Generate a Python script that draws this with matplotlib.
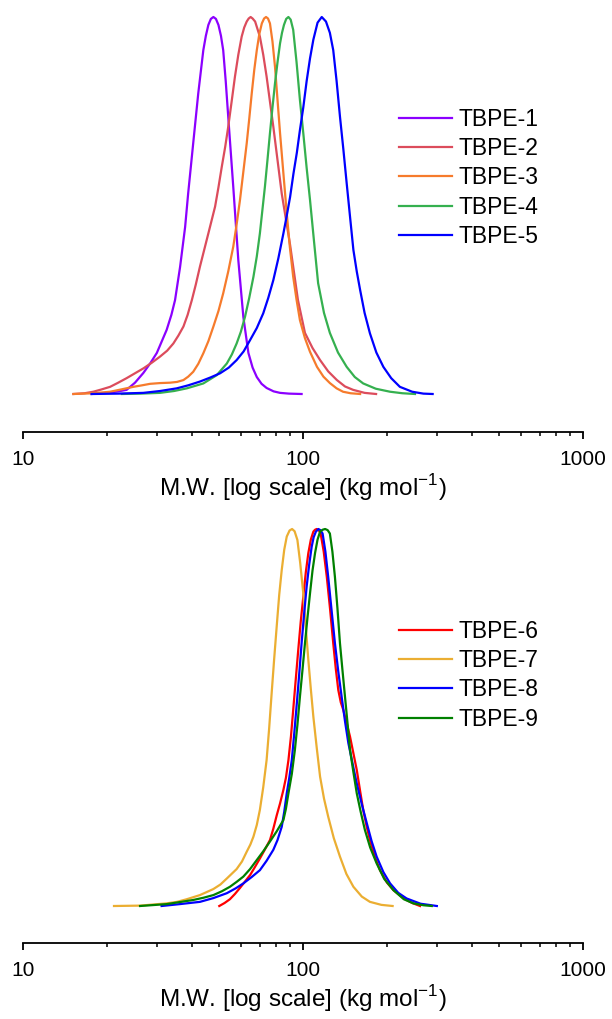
import matplotlib
matplotlib.use("Agg")
import matplotlib.pyplot as plt
import numpy as np

plt.rcParams['font.family'] = ['Liberation Sans', 'DejaVu Sans']
plt.rcParams['mathtext.fontset'] = 'custom'
plt.rcParams['mathtext.rm'] = 'Liberation Sans'

# GPC traces: log10(M.W. / kg mol-1) and normalised height
labels_top = ['TBPE-1', 'TBPE-2', 'TBPE-3', 'TBPE-4', 'TBPE-5']
colors_top = ['#8b00ff', '#dc4c5c', '#f67b2c', '#35b04f', '#0000ff']

logm_1 = [1.245, 1.300, 1.340, 1.370, 1.400, 1.430, 1.455, 1.478, 1.513, 1.530, 1.543, 1.561, 1.579,
          1.590, 1.608, 1.626, 1.644, 1.653, 1.662, 1.671, 1.680, 1.689, 1.698, 1.707, 1.715, 1.724,
          1.733, 1.751, 1.769, 1.787, 1.805, 1.820, 1.835, 1.852, 1.870, 1.895, 1.918, 1.950, 1.995]
h_1 = [0, 0.003, 0.007, 0.011, 0.030, 0.056, 0.082, 0.109, 0.170, 0.210, 0.249, 0.337, 0.443,
       0.533, 0.666, 0.798, 0.912, 0.950, 0.979, 0.995, 1.0, 0.995, 0.979, 0.950, 0.912, 0.830,
       0.735, 0.549, 0.355, 0.204, 0.109, 0.070, 0.045, 0.027, 0.016, 0.007, 0.003, 0.001, 0]

logm_2 = [1.180, 1.220, 1.251, 1.280, 1.311, 1.340, 1.370, 1.400, 1.430, 1.460, 1.489, 1.515, 1.537,
          1.555, 1.573, 1.588, 1.603, 1.617, 1.632, 1.647, 1.662, 1.686, 1.698, 1.710, 1.722, 1.733,
          1.745, 1.757, 1.769, 1.781, 1.790, 1.799, 1.806, 1.813, 1.820, 1.829, 1.846, 1.858, 1.870,
          1.894, 1.924, 1.954, 1.982, 2.007, 2.034, 2.061, 2.090, 2.121, 2.150, 2.179, 2.220, 2.261]
h_2 = [0, 0.002, 0.006, 0.012, 0.019, 0.030, 0.042, 0.055, 0.068, 0.083, 0.099, 0.115, 0.134,
       0.155, 0.179, 0.210, 0.249, 0.290, 0.338, 0.382, 0.426, 0.497, 0.548, 0.603, 0.655, 0.709,
       0.775, 0.842, 0.900, 0.948, 0.972, 0.988, 0.996, 1.0, 0.996, 0.988, 0.948, 0.900, 0.842,
       0.709, 0.532, 0.395, 0.249, 0.162, 0.122, 0.090, 0.060, 0.037, 0.020, 0.011, 0.003, 0]

logm_3 = [1.180, 1.250, 1.311, 1.350, 1.394, 1.425, 1.454, 1.490, 1.525, 1.550, 1.573, 1.590, 1.608,
          1.626, 1.644, 1.662, 1.680, 1.698, 1.715, 1.733, 1.751, 1.763, 1.775, 1.787, 1.799, 1.808,
          1.817, 1.826, 1.835, 1.844, 1.853, 1.861, 1.868, 1.875, 1.882, 1.891, 1.900, 1.909, 1.918,
          1.930, 1.942, 1.953, 1.965, 1.977, 1.989, 2.007, 2.025, 2.050, 2.073, 2.096, 2.120, 2.143,
          2.170, 2.204]
h_3 = [0, 0.002, 0.006, 0.012, 0.019, 0.023, 0.027, 0.029, 0.030, 0.032, 0.037, 0.046, 0.059,
       0.080, 0.108, 0.140, 0.179, 0.220, 0.267, 0.325, 0.391, 0.450, 0.515, 0.590, 0.665, 0.730,
       0.798, 0.860, 0.912, 0.955, 0.983, 0.996, 1.0, 0.996, 0.983, 0.935, 0.868, 0.780, 0.692,
       0.585, 0.479, 0.390, 0.311, 0.250, 0.196, 0.148, 0.112, 0.072, 0.046, 0.029, 0.015, 0.006,
       0.002, 0]

logm_4 = [1.353, 1.420, 1.489, 1.540, 1.585, 1.644, 1.692, 1.728, 1.746, 1.763, 1.778, 1.793, 1.808,
          1.823, 1.835, 1.846, 1.855, 1.864, 1.873, 1.882, 1.891, 1.900, 1.909, 1.918, 1.925, 1.932,
          1.940, 1.948, 1.956, 1.965, 1.977, 1.989, 2.001, 2.013, 2.025, 2.040, 2.054, 2.075, 2.096,
          2.125, 2.156, 2.185, 2.215, 2.260, 2.311, 2.355, 2.400]
h_4 = [0, 0.001, 0.003, 0.008, 0.015, 0.028, 0.050, 0.081, 0.105, 0.134, 0.165, 0.205, 0.255,
       0.311, 0.365, 0.426, 0.488, 0.550, 0.620, 0.692, 0.760, 0.824, 0.880, 0.930, 0.958, 0.979,
       0.995, 1.0, 0.993, 0.966, 0.880, 0.780, 0.692, 0.600, 0.515, 0.400, 0.294, 0.215, 0.162,
       0.110, 0.072, 0.045, 0.028, 0.014, 0.006, 0.002, 0]

logm_5 = [1.245, 1.340, 1.430, 1.490, 1.549, 1.590, 1.632, 1.670, 1.704, 1.735, 1.763, 1.788, 1.811,
          1.835, 1.858, 1.876, 1.894, 1.912, 1.930, 1.942, 1.954, 1.966, 1.978, 1.989, 2.001, 2.013,
          2.025, 2.037, 2.052, 2.067, 2.082, 2.096, 2.108, 2.120, 2.132, 2.144, 2.156, 2.168, 2.180,
          2.192, 2.204, 2.220, 2.239, 2.262, 2.287, 2.315, 2.346, 2.390, 2.430, 2.463]
h_5 = [0, 0.001, 0.003, 0.008, 0.015, 0.023, 0.033, 0.044, 0.055, 0.070, 0.090, 0.113, 0.143,
       0.175, 0.214, 0.255, 0.302, 0.360, 0.426, 0.473, 0.523, 0.585, 0.640, 0.700, 0.760, 0.830,
       0.890, 0.940, 0.985, 1.0, 0.988, 0.958, 0.912, 0.830, 0.736, 0.650, 0.559, 0.470, 0.382,
       0.325, 0.276, 0.215, 0.161, 0.110, 0.072, 0.042, 0.019, 0.006, 0.001, 0]

labels_bot = ['TBPE-6', 'TBPE-7', 'TBPE-8', 'TBPE-9']
colors_bot = ['#ff0000', '#ebae32', '#0000ff', '#008000']

logm_6 = [1.701, 1.720, 1.739, 1.757, 1.775, 1.793, 1.811, 1.828, 1.846, 1.864, 1.882, 1.894, 1.906,
          1.918, 1.930, 1.939, 1.948, 1.957, 1.965, 1.974, 1.983, 1.992, 2.001, 2.010, 2.019, 2.028,
          2.037, 2.043, 2.049, 2.056, 2.063, 2.074, 2.085, 2.097, 2.108, 2.117, 2.126, 2.135, 2.144,
          2.156, 2.168, 2.180, 2.192, 2.204, 2.215, 2.227, 2.239, 2.257, 2.275, 2.300, 2.323, 2.360,
          2.390, 2.418]
h_6 = [0, 0.008, 0.018, 0.032, 0.048, 0.065, 0.082, 0.103, 0.126, 0.150, 0.175, 0.205, 0.240,
       0.272, 0.308, 0.340, 0.387, 0.450, 0.520, 0.600, 0.679, 0.755, 0.820, 0.885, 0.936, 0.972,
       0.993, 0.998, 1.0, 0.997, 0.988, 0.940, 0.873, 0.785, 0.697, 0.630, 0.573, 0.540, 0.520,
       0.485, 0.449, 0.405, 0.361, 0.305, 0.255, 0.212, 0.175, 0.130, 0.095, 0.062, 0.042, 0.020,
       0.008, 0]

logm_7 = [1.325, 1.418, 1.513, 1.550, 1.585, 1.632, 1.680, 1.705, 1.728, 1.763, 1.782, 1.799, 1.812,
          1.823, 1.835, 1.846, 1.858, 1.870, 1.879, 1.888, 1.897, 1.906, 1.915, 1.924, 1.933, 1.942,
          1.952, 1.961, 1.970, 1.980, 1.990, 2.001, 2.010, 2.019, 2.028, 2.037, 2.049, 2.061, 2.075,
          2.090, 2.110, 2.132, 2.155, 2.180, 2.210, 2.239, 2.280, 2.320]
h_7 = [0, 0.001, 0.007, 0.011, 0.018, 0.029, 0.045, 0.057, 0.073, 0.098, 0.118, 0.144, 0.163,
       0.184, 0.215, 0.255, 0.315, 0.387, 0.470, 0.564, 0.655, 0.741, 0.825, 0.891, 0.945, 0.980,
       0.996, 1.0, 0.994, 0.971, 0.910, 0.829, 0.740, 0.653, 0.575, 0.502, 0.420, 0.343, 0.285,
       0.237, 0.180, 0.131, 0.085, 0.051, 0.025, 0.011, 0.003, 0]

logm_8 = [1.495, 1.560, 1.632, 1.680, 1.728, 1.760, 1.787, 1.817, 1.846, 1.870, 1.894, 1.909, 1.924,
          1.933, 1.942, 1.951, 1.960, 1.969, 1.978, 1.987, 1.995, 2.004, 2.013, 2.022, 2.031, 2.038,
          2.046, 2.055, 2.062, 2.070, 2.080, 2.090, 2.102, 2.114, 2.126, 2.138, 2.150, 2.162, 2.177,
          2.192, 2.210, 2.228, 2.245, 2.263, 2.287, 2.311, 2.340, 2.370, 2.420, 2.478]
h_8 = [0, 0.005, 0.011, 0.021, 0.034, 0.047, 0.060, 0.077, 0.095, 0.120, 0.149, 0.175, 0.210,
       0.250, 0.299, 0.340, 0.387, 0.460, 0.538, 0.620, 0.697, 0.775, 0.847, 0.905, 0.953, 0.978,
       0.993, 1.0, 0.997, 0.988, 0.940, 0.873, 0.785, 0.697, 0.622, 0.555, 0.490, 0.432, 0.378,
       0.325, 0.270, 0.219, 0.172, 0.131, 0.090, 0.060, 0.035, 0.020, 0.006, 0]

logm_9 = [1.418, 1.513, 1.608, 1.645, 1.680, 1.710, 1.739, 1.763, 1.787, 1.811, 1.835, 1.858, 1.882,
          1.906, 1.930, 1.939, 1.948, 1.960, 1.971, 1.980, 1.989, 1.998, 2.007, 2.016, 2.025, 2.034,
          2.043, 2.052, 2.061, 2.070, 2.079, 2.088, 2.096, 2.105, 2.114, 2.123, 2.132, 2.141, 2.150,
          2.159, 2.168, 2.180, 2.192, 2.206, 2.221, 2.240, 2.263, 2.290, 2.323, 2.360, 2.394, 2.430,
          2.460]
h_9 = [0, 0.005, 0.016, 0.022, 0.029, 0.039, 0.051, 0.064, 0.078, 0.098, 0.122, 0.145, 0.171,
       0.198, 0.228, 0.258, 0.299, 0.350, 0.414, 0.480, 0.555, 0.625, 0.697, 0.765, 0.829, 0.890,
       0.936, 0.972, 0.993, 0.998, 1.0, 0.997, 0.988, 0.940, 0.873, 0.790, 0.697, 0.625, 0.555,
       0.485, 0.414, 0.355, 0.299, 0.250, 0.202, 0.155, 0.113, 0.072, 0.042, 0.018, 0.007, 0.002,
       0]

top_series = [(logm_1, h_1), (logm_2, h_2), (logm_3, h_3), (logm_4, h_4), (logm_5, h_5)]
bot_series = [(logm_6, h_6), (logm_7, h_7), (logm_8, h_8), (logm_9, h_9)]

W, H = 612, 1019
fig = plt.figure(figsize=(W / 100, H / 100), dpi=100)


def panel(rect_px, ymin, series, labels, colors, leg_px):
    left, top, right, bottom = rect_px
    ax = fig.add_axes([left / W, 1 - bottom / H, (right - left) / W, (bottom - top) / H])
    for (lm, h), lab, c in zip(series, labels, colors):
        ax.plot(10 ** np.array(lm), h, color=c, lw=1.6, label=lab, clip_on=False,
                solid_joinstyle='round')
    ax.set_xscale('log')
    ax.set_xlim(10, 1000)
    ax.set_ylim(ymin, 1.0)
    for s in ['top', 'left', 'right']:
        ax.spines[s].set_visible(False)
    ax.spines['bottom'].set_linewidth(1.3)
    ax.set_yticks([])
    ax.set_xticks([10, 100, 1000])
    ax.set_xticklabels(['10', '100', '1000'])
    ax.tick_params(axis='x', which='major', direction='out', length=5, width=1.3,
                   labelsize=15, pad=8)
    ax.tick_params(axis='x', which='minor', direction='out', length=3, width=1.1)
    ax.set_xlabel(r'M.W. [log scale] (kg mol$^{\mathregular{-1}}$)', fontsize=17.5, labelpad=2)
    ax.legend(loc='upper left', bbox_to_anchor=(leg_px[0] / W, 1 - leg_px[1] / H),
              bbox_transform=fig.transFigure, frameon=False, fontsize=16.5,
              handlelength=2.3, handletextpad=0.3, labelspacing=0.27, borderpad=0,
              borderaxespad=0)
    return ax


panel((23, 17, 583, 432), -38 / 377, top_series, labels_top, colors_top, (399, 108))
panel((23, 529, 583, 943), -37 / 377, bot_series, labels_bot, colors_bot, (399, 620))

fig.savefig('out.png', dpi=100)
